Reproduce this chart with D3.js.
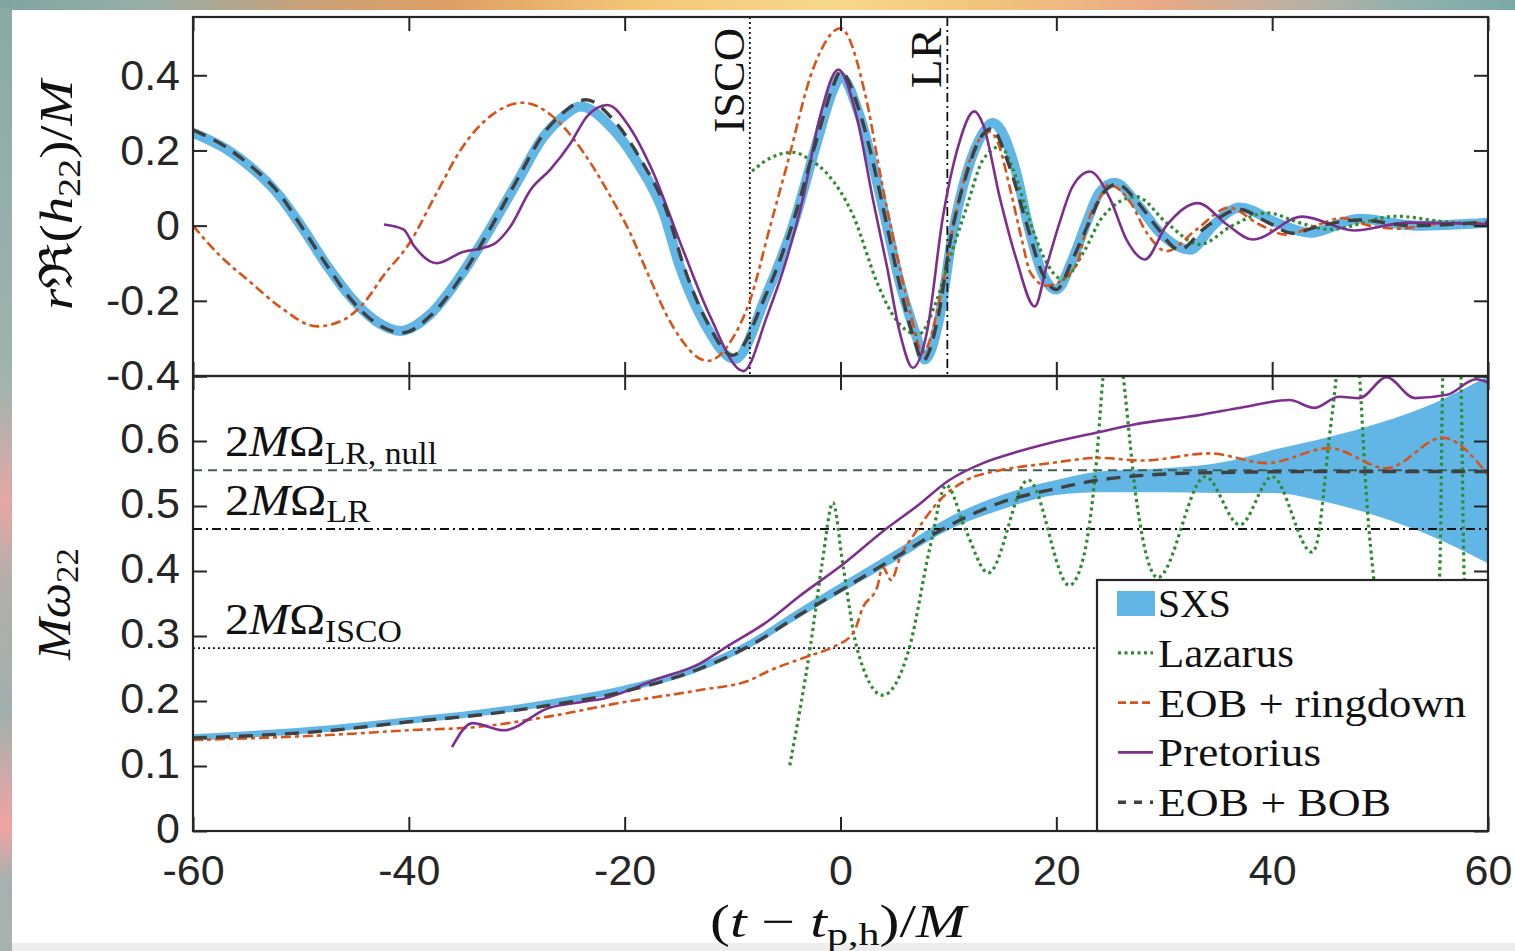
<!DOCTYPE html>
<html>
<head>
<meta charset="utf-8">
<script src="https://cdn.jsdelivr.net/npm/d3@7"></script>
<style>
  body { margin: 0; overflow: hidden; background: #fff; }
  svg { display: block; }
</style>
</head>
<body>
<div id="container"></div>
<script>
/* DATA */
const timeTicks = [-60, -40, -20, 0, 20, 40, 60];
const strainTicks = [-0.4, -0.2, 0, 0.2, 0.4];
const freqTicks = [0, 0.1, 0.2, 0.3, 0.4, 0.5, 0.6];
const freqTicksAll = [0, 0.1, 0.2, 0.3, 0.4, 0.5, 0.6, 0.7];

const seriesNames = ["SXS", "Lazarus", "EOB + ringdown", "Pretorius", "EOB + BOB"];

// top panel: r Re(h22)/M  as [t, value]
const sxsStrain = [[-60,.247],[-57,.205],[-54.7,.157],[-52,.08],[-50,0],[-47.5,-.11],[-45.4,-.19],[-43,-.255],[-40.8,-.28],[-38,-.235],[-35,-.125],[-32.5,-.01],[-30,.114],[-27.5,.237],[-25.7,.29],[-24.1,.317],[-21.3,.263],[-18.8,.167],[-16.4,.034],[-14.9,-.108],[-12.5,-.265],[-9.8,-.355],[-6.8,-.18],[-4.4,0],[-2.2,.22],[-0.7,.36],[0,.396],[1.8,.29],[3.4,.114],[4.3,0],[5.5,-.152],[7.1,-.30],[7.8,-.356],[9.2,-.24],[10.4,-.02],[11.7,.14],[13.2,.246],[14.1,.273],[16.3,.14],[17.4,0],[18.6,-.12],[20,-.17],[21.5,-.09],[22.8,.008],[24,.088],[25.4,.114],[27.7,.05],[29.6,-.019],[32.4,-.064],[34.5,0],[37,.048],[40.4,.008],[43.5,-.019],[48.1,.018],[53.4,0],[60,.008]];
const lazarusStrain = [[-8.2,.145],[-6.5,.18],[-4.4,.195],[-2.8,.175],[-1.3,.14],[1.2,.025],[3.4,-.152],[4.9,-.24],[7.2,-.29],[8.9,-.2],[10.1,-.09],[11.7,.05],[13.2,.175],[14.8,.21],[16,.149],[17.5,.016],[18.8,-.082],[20.6,-.143],[22.5,-.072],[24.3,.024],[27.4,.077],[30.2,.008],[33.3,-.05],[36.3,0],[39.5,.034],[42.5,.008],[45.3,-.01],[51.5,.025],[56,.01],[60,.003]];
const eobRdStrain = [[-60,0],[-57.5,-.08],[-54.7,-.15],[-52,-.215],[-48.5,-.268],[-46,-.25],[-44,-.2],[-42.4,-.135],[-39.9,-.045],[-37.4,.088],[-35,.21],[-32.5,.29],[-29.4,.327],[-26.3,.281],[-23.8,.194],[-21.3,.077],[-19.5,-.019],[-17.9,-.125],[-15.5,-.27],[-12.3,-.36],[-10,-.3],[-8.4,-.2],[-6.5,0],[-5,.157],[-2.5,.42],[0,.525],[2.4,.335],[3.9,.104],[4.8,-.02],[6.4,-.223],[7.6,-.338],[9.2,-.197],[10.4,-.01],[12,.175],[13.8,.25],[14.6,.22],[15.7,.1],[16.8,-.037],[17.6,-.125],[19.1,-.16],[21.8,-.108],[23,.016],[24.3,.088],[24.8,.11],[26.9,.06],[28.4,-.02],[30.2,-.068],[33,-.01],[36,.048],[38.7,.005],[41.3,-.024],[44,0],[46.5,.02],[49,0],[51.8,-.008],[55,.004],[60,.008]];
const pretoriusStrain = [[-42.3,.003],[-40.5,-.01],[-39.5,-.055],[-37.4,-.1],[-35,-.07],[-33.2,-.06],[-31.9,-.045],[-30.6,-.003],[-28.7,.096],[-26.9,.149],[-25,.22],[-23.5,.29],[-21.6,.321],[-19.5,.26],[-17.6,.157],[-14.6,-.064],[-12.1,-.24],[-9,-.387],[-6.8,-.24],[-5,-.09],[-3.5,.07],[-1.9,.29],[-0.2,.415],[1.5,.29],[3,.07],[4.3,-.108],[5.5,-.285],[6.7,-.378],[8,-.285],[9.5,.025],[10.8,.2],[12.4,.304],[13.2,.27],[14.8,.07],[16.3,-.09],[18,-.215],[19.1,-.108],[20.3,.008],[21.5,.104],[23.1,.144],[25,.07],[26.5,-.037],[28.2,-.09],[30.2,0],[33.1,.06],[35.8,.003],[38.2,-.037],[42.8,.024],[47.6,-.013],[52.5,.008],[60,.004]];
const eobBobStrain = [[-60,.255],[-57,.21],[-54.7,.16],[-52,.085],[-50,0],[-47.5,-.11],[-45.4,-.195],[-43,-.26],[-40.6,-.285],[-38,-.24],[-35,-.13],[-32.5,-.01],[-30,.12],[-27.5,.245],[-25.5,.305],[-23.6,.335],[-21,.28],[-18.6,.18],[-16,.03],[-14.5,-.11],[-12.3,-.26],[-10,-.345],[-7,-.19],[-4.5,0],[-2.2,.23],[-0.7,.37],[0,.41],[1.8,.3],[3.4,.12],[4.3,0],[5.5,-.16],[6.9,-.31],[7.6,-.36],[9,-.25],[10.3,-.02],[11.6,.13],[13,.235],[14,.258],[15.5,.17],[17.3,0],[18.6,-.12],[20,-.17],[21.5,-.09],[22.9,0],[24.3,.085],[25.6,.11],[27.6,.06],[29.2,0],[31.4,-.064],[33.8,-.005],[37,.043],[39.5,.01],[41.9,-.02],[44.5,0],[48,.015],[53,0],[60,.01]];

// bottom panel: M omega22  as [t, value]  (SXS as [t, low, high])
const sxsFreqBand = [[-60,.139,.149],[-47,.153,.163],[-40,.165,.175],[-33.7,.176,.186],[-27.1,.192,.202],[-20.5,.212,.222],[-13,.246,.258],[-8.4,.282,.294],[-3.75,.329,.343],[0,.366,.381],[5.5,.419,.436],[10.1,.464,.483],[14.8,.494,.516],[20,.517,.54],[24,.521,.553],[30,.521,.558],[35,.52,.566],[40,.52,.586],[45,.506,.605],[50,.483,.628],[55,.452,.658],[60,.412,.70]];
const lazarusFreq = [[-4.7,.101],[-2.8,.283],[-1.7,.412],[-0.7,.505],[0.2,.412],[1.5,.283],[3.9,.209],[6.4,.283],[8.3,.437],[9.8,.532],[11.6,.463],[13.7,.397],[17.4,.54],[21.2,.378],[22.5,.42],[23.7,.566],[24.3,.694],[25.2,.85],[26.2,.7],[27.5,.5],[29.4,.39],[33.8,.545],[37,.471],[40,.545],[43.7,.429],[44.1,.44],[45.3,.606],[46,.71],[47,.95],[48.1,.7],[48.8,.5],[49.4,.39],[52,.12],[55.5,.39],[55.8,.7],[56.6,1.2],[57.5,.7],[57.8,.39],[59,.12],[60,.06]];
const eobRdFreq = [[-60,.14],[-47,.148],[-40,.155],[-33.7,.16],[-27.1,.176],[-20.5,.197],[-13,.217],[-8.4,.232],[-6.8,.245],[-2.8,.27],[-0.7,.283],[1.2,.305],[2.1,.345],[3.4,.375],[3.9,.406],[4.7,.386],[5.5,.42],[7.1,.463],[9.2,.509],[11.7,.54],[14.8,.555],[19,.565],[24,.574],[28,.57],[34.2,.581],[39.5,.566],[45.3,.589],[50.6,.558],[55.8,.605],[60,.548]];
const pretoriusFreq = [[-36,.129],[-34.1,.166],[-31.2,.155],[-27.1,.189],[-23.8,.199],[-21.9,.204],[-17.3,.232],[-13,.258],[-10.6,.283],[-6.8,.322],[-3.75,.362],[0.2,.41],[4,.462],[7.1,.5],[10.1,.54],[13.2,.566],[16.3,.583],[19.4,.597],[24,.614],[27.1,.625],[33.3,.64],[37.3,.652],[41.6,.663],[43.9,.651],[46.2,.668],[48.1,.666],[50.6,.698],[53.2,.666],[56.2,.671],[58.9,.695],[60,.69]];
const eobBobFreq = [[-60,.143],[-47,.155],[-40,.168],[-33.7,.178],[-27.1,.193],[-20.5,.213],[-13,.25],[-8.4,.285],[-3.75,.333],[0,.37],[5.5,.425],[10.1,.47],[14.8,.505],[20,.527],[24,.54],[33.3,.551],[45,.553],[60,.553]];

// reference frequencies and times
const refNames = ["LR, null", "LR", "ISCO"];
const refFreqs = [0.555, 0.4646, 0.2815];
const markerNames = ["ISCO", "LR"];
const markerTimes = [-8.4, 9.9];

/* STYLES */
const W = 1515, H = 951;
const colors = { "SXS": "#62b6e6", "Lazarus": "#2e8b2e", "EOB + ringdown": "#d95319", "Pretorius": "#7e2f8e", "EOB + BOB": "#404040" };
const dashes = { "Lazarus": "3,3.5", "EOB + ringdown": "10,4,4,4", "Pretorius": null, "EOB + BOB": "14,9" };
const widths = { "Lazarus": 3.2, "EOB + ringdown": 2.6, "Pretorius": 2.6, "EOB + BOB": 3.4 };
const refStyle = { "LR, null": ["#3f5f58", "9,6"], "LR": ["#111", "9,4,2,4"], "ISCO": ["#111", "2,3"] };
const axisCol = "#262626";
const sans = "'Liberation Sans', Arial, Helvetica, sans-serif";
const serif = "'Liberation Serif', 'Times New Roman', 'DejaVu Serif', serif";

/* SCALES */
const x = d3.scaleLinear().domain([-60, 60]).range([193, 1488]);
const yTop = d3.scaleLinear().domain([-0.4, 0.555]).range([376, 17]);
const yBot = d3.scaleLinear().domain([0, 0.7]).range([831, 376]);

/* SVG + BACKGROUND */
const svg = d3.select("#container").append("svg").attr("width", W).attr("height", H);
const defs = svg.append("defs");

const gTopBg = defs.append("linearGradient").attr("id", "bgTop");
[[0,"#7fa6a3"],[10,"#98aea6"],[20,"#c9a27a"],[30,"#dfa064"],[42,"#f3c677"],[55,"#f8d88c"],[66,"#f1c27c"],[76,"#eaaa86"],[86,"#b9b0a2"],[93,"#8fb2ad"],[100,"#7da8a6"]]
  .forEach(([o, c]) => gTopBg.append("stop").attr("offset", o + "%").attr("stop-color", c));
const gLeftBg = defs.append("linearGradient").attr("id", "bgLeft").attr("x1", 0).attr("y1", 0).attr("x2", 0).attr("y2", 1);
[[0,"#8aaaa6"],[40,"#a1b4ae"],[52,"#e7a7a4"],[60,"#b3aeaa"],[74,"#9fb1ad"],[86,"#f1a3a3"],[92,"#a3b2ae"],[100,"#a7b5b1"]]
  .forEach(([o, c]) => gLeftBg.append("stop").attr("offset", o + "%").attr("stop-color", c));

svg.append("rect").attr("width", W).attr("height", H).attr("fill", "url(#bgTop)");
svg.append("rect").attr("y", 8).attr("width", 12).attr("height", H).attr("fill", "url(#bgLeft)");
svg.append("rect").attr("x", 12).attr("y", 10).attr("width", W - 12).attr("height", 933).attr("fill", "#fff");
svg.append("rect").attr("x", 12).attr("y", 943).attr("width", W - 12).attr("height", 8).attr("fill", "#ededed");

// clip paths for the two panels
defs.append("clipPath").attr("id", "clipTop").append("rect")
  .attr("x", 193).attr("y", 17).attr("width", 1488 - 193).attr("height", 376 - 17);
defs.append("clipPath").attr("id", "clipBot").append("rect")
  .attr("x", 193).attr("y", 376).attr("width", 1488 - 193).attr("height", 831 - 376);

/* HELPERS */
function mathText(sel, parts, size) {
  let shifted = false;
  parts.forEach(([txt, kind]) => {
    const sub = kind.includes("s");
    const ts = sel.append("tspan").text(txt)
      .attr("font-style", kind.includes("i") ? "italic" : "normal")
      .attr("font-size", sub ? size * 0.7 : size);
    if (sub && !shifted) { ts.attr("dy", size * 0.17); shifted = true; }
    else if (!sub && shifted) { ts.attr("dy", -size * 0.17); shifted = false; }
  });
  return sel;
}

function styleAxis(g, showLabels) {
  g.select(".domain").remove();
  g.selectAll(".tick line").attr("stroke", axisCol).attr("stroke-width", 2);
  g.attr("font-family", sans).attr("font-size", 43);
  g.selectAll(".tick text").attr("fill", axisCol);
  if (!showLabels) g.selectAll(".tick text").remove();
}

const lineGen = yScale => d3.line().x(d => x(d[0])).y(d => yScale(d[1])).curve(d3.curveMonotoneX);

function drawSeries(layer, name, data, yScale) {
  layer.append("path")
    .datum(data)
    .attr("fill", "none")
    .attr("stroke", colors[name])
    .attr("stroke-width", widths[name])
    .attr("stroke-dasharray", dashes[name])
    .attr("stroke-linejoin", "round")
    .attr("d", lineGen(yScale));
}

/* TOP PANEL: STRAIN */
const topLayer = svg.append("g").attr("clip-path", "url(#clipTop)");
topLayer.append("path").datum(sxsStrain)
  .attr("fill", "none").attr("stroke", colors["SXS"]).attr("stroke-width", 10)
  .attr("stroke-linejoin", "round")
  .attr("d", lineGen(yTop));

// vertical ISCO / LR markers
markerNames.forEach((name, i) => {
  topLayer.append("line")
    .attr("x1", x(markerTimes[i])).attr("x2", x(markerTimes[i]))
    .attr("y1", 17).attr("y2", 376)
    .attr("stroke", "#111").attr("stroke-width", 1.8)
    .attr("stroke-dasharray", refStyle[name][1]);
});

drawSeries(topLayer, "Lazarus", lazarusStrain, yTop);
drawSeries(topLayer, "EOB + ringdown", eobRdStrain, yTop);
drawSeries(topLayer, "Pretorius", pretoriusStrain, yTop);
drawSeries(topLayer, "EOB + BOB", eobBobStrain, yTop);

const markerLen = { "ISCO": 105, "LR": 60 };
markerNames.forEach((name, i) => {
  svg.append("text")
    .attr("transform", `translate(${x(markerTimes[i]) - 6},28) rotate(-90)`)
    .attr("text-anchor", "end")
    .attr("font-family", serif).attr("font-size", 44).attr("fill", "#111")
    .attr("textLength", markerLen[name]).attr("lengthAdjust", "spacingAndGlyphs")
    .text(name);
});

/* BOTTOM PANEL: FREQUENCY */
const botLayer = svg.append("g").attr("clip-path", "url(#clipBot)");
botLayer.append("path").datum(sxsFreqBand)
  .attr("fill", colors["SXS"]).attr("stroke", "none")
  .attr("d", d3.area().x(d => x(d[0])).y0(d => yBot(d[1])).y1(d => yBot(d[2])).curve(d3.curveMonotoneX));

refNames.forEach((name, i) => {
  botLayer.append("line")
    .attr("x1", 193).attr("x2", 1488)
    .attr("y1", yBot(refFreqs[i])).attr("y2", yBot(refFreqs[i]))
    .attr("stroke", refStyle[name][0]).attr("stroke-width", 1.8)
    .attr("stroke-dasharray", refStyle[name][1]);
});

drawSeries(botLayer, "Lazarus", lazarusFreq, yBot);
drawSeries(botLayer, "EOB + ringdown", eobRdFreq, yBot);
drawSeries(botLayer, "Pretorius", pretoriusFreq, yBot);
drawSeries(botLayer, "EOB + BOB", eobBobFreq, yBot);

// reference labels  2 M Omega_sub
const refLen = { "LR, null": 212, "LR": 145, "ISCO": 177 };
refNames.forEach((name, i) => {
  const t = svg.append("text")
    .attr("x", 225).attr("y", yBot(refFreqs[i]) - 14)
    .attr("font-family", serif).attr("fill", "#111")
    .attr("textLength", refLen[name]).attr("lengthAdjust", "spacingAndGlyphs");
  mathText(t, [["2","r"],["M","i"],["Ω","r"],[name,"s"]], 44);
});

/* AXES */
const fmt = d => String(d);
svg.append("g").attr("transform", "translate(193,0)")
  .call(d3.axisLeft(yTop).tickValues(strainTicks).tickSize(-14).tickPadding(13).tickFormat(fmt))
  .call(g => styleAxis(g, true));
svg.append("g").attr("transform", "translate(1488,0)")
  .call(d3.axisRight(yTop).tickValues(strainTicks).tickSize(-14))
  .call(g => styleAxis(g, false));
svg.append("g").attr("transform", "translate(0,17)")
  .call(d3.axisTop(x).tickValues(timeTicks).tickSize(-14))
  .call(g => styleAxis(g, false));
svg.append("g").attr("transform", "translate(0,376)")
  .call(d3.axisBottom(x).tickValues(timeTicks).tickSize(-14))
  .call(g => styleAxis(g, false));

svg.append("g").attr("transform", "translate(193,-2)")
  .call(d3.axisLeft(yBot).tickValues(freqTicks).tickSize(0).tickPadding(13).tickFormat(fmt))
  .call(g => styleAxis(g, true));
svg.append("g").attr("transform", "translate(193,0)")
  .call(d3.axisLeft(yBot).tickValues(freqTicksAll).tickSize(-14))
  .call(g => styleAxis(g, false));
svg.append("g").attr("transform", "translate(1488,0)")
  .call(d3.axisRight(yBot).tickValues(freqTicksAll).tickSize(-14))
  .call(g => styleAxis(g, false));
svg.append("g").attr("transform", "translate(0,376)")
  .call(d3.axisTop(x).tickValues(timeTicks).tickSize(-14))
  .call(g => styleAxis(g, false));
svg.append("g").attr("transform", "translate(0,831)")
  .call(d3.axisBottom(x).tickValues(timeTicks).tickSize(-14).tickPadding(23).tickFormat(fmt))
  .call(g => styleAxis(g, true));

// frames
[[17, 376], [376, 831]].forEach(([a, b]) => {
  svg.append("rect").attr("x", 193).attr("y", a).attr("width", 1488 - 193).attr("height", b - a)
    .attr("fill", "none").attr("stroke", axisCol).attr("stroke-width", 2.2);
});

/* AXIS LABELS */
const yLabTop = svg.append("text")
  .attr("transform", "translate(72,195) rotate(-90)")
  .attr("text-anchor", "middle").attr("font-family", serif).attr("fill", "#111")
  .attr("textLength", 230).attr("lengthAdjust", "spacingAndGlyphs");
mathText(yLabTop, [["r","i"],["ℜ","r"],["(","r"],["h","i"],["22","s"],[")","r"],["/","r"],["M","i"]], 46);

const yLabBot = svg.append("text")
  .attr("transform", "translate(70,604) rotate(-90)")
  .attr("text-anchor", "middle").attr("font-family", serif).attr("fill", "#111")
  .attr("textLength", 112).attr("lengthAdjust", "spacingAndGlyphs");
mathText(yLabBot, [["M","i"],["ω","i"],["22","s"]], 46);

const xLab = svg.append("text")
  .attr("x", 838).attr("y", 937)
  .attr("text-anchor", "middle").attr("font-family", serif).attr("fill", "#111")
  .attr("textLength", 256).attr("lengthAdjust", "spacingAndGlyphs");
mathText(xLab, [["(","r"],["t","i"],[" − ","r"],["t","i"],["p,h","s"],[")","r"],["/","r"],["M","i"]], 46);

/* LEGEND */
const legend = svg.append("g");
legend.append("rect").attr("x", 1097).attr("y", 580).attr("width", 1488 - 1097).attr("height", 831 - 580)
  .attr("fill", "#fff").attr("stroke", axisCol).attr("stroke-width", 2.2);
const legendLen = { "SXS": 73, "Lazarus": 136, "EOB + ringdown": 308, "Pretorius": 163, "EOB + BOB": 233 };
seriesNames.forEach((name, i) => {
  const cy = 603 + i * 49.8;
  if (name === "SXS") {
    legend.append("rect").attr("x", 1117).attr("y", cy - 12).attr("width", 38).attr("height", 25)
      .attr("fill", colors[name]);
  } else {
    legend.append("line").attr("x1", 1118).attr("x2", 1153).attr("y1", cy).attr("y2", cy)
      .attr("stroke", colors[name]).attr("stroke-width", widths[name])
      .attr("stroke-dasharray", name === "EOB + BOB" ? "8,8" : (name === "EOB + ringdown" ? "8,4" : dashes[name]));
  }
  legend.append("text").attr("x", 1158).attr("y", cy + 14)
    .attr("font-family", serif).attr("font-size", 40).attr("fill", "#111")
    .attr("textLength", legendLen[name]).attr("lengthAdjust", "spacingAndGlyphs")
    .text(name);
});
</script>
</body>
</html>
